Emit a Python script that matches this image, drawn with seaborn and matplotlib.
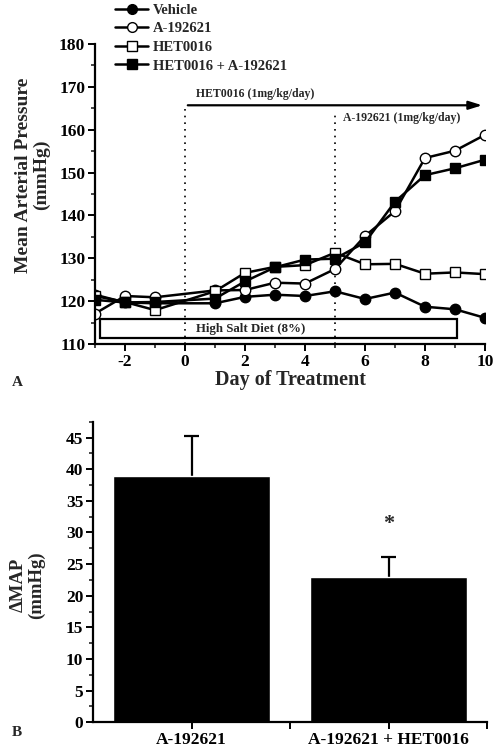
import numpy as np
import pandas as pd
import matplotlib
matplotlib.use("Agg")
import matplotlib.pyplot as plt
import seaborn as sns
from matplotlib.ticker import MultipleLocator
from matplotlib.lines import Line2D

#? Data (panel A)
days = [-3, -2, -1, 1, 2, 3, 4, 5, 6, 7, 8, 9, 10]
vehicle = [121.5, 119.7, 119.5, 119.5, 121.0, 121.5, 121.2, 122.3, 120.5, 122.0, 118.7, 118.1, 116.1]
a192621 = [117.1, 121.2, 120.9, 122.5, 122.6, 124.3, 124.1, 127.5, 135.2, 141.0, 153.4, 155.1, 158.8]
het0016 = [121.2, 119.8, 117.9, 122.3, 126.6, 128.0, 128.4, 131.3, 128.6, 128.7, 126.4, 126.7, 126.3]
het_a = [120.3, 119.7, 119.8, 120.6, 124.6, 127.9, 129.7, 129.9, 133.7, 143.2, 149.4, 151.0, 153.0]
series_names = ["Vehicle", "A-192621", "HET0016", "HET0016 + A-192621"]

#? Data (panel B)
bar_labels = ["A-192621", "A-192621 + HET0016"]
bar_values = [38.9, 23.0]
bar_errors = [6.4, 3.1]

sns.set_style("ticks")
plt.rcParams["font.family"] = ["Liberation Serif", "DejaVu Serif"]
plt.rcParams["font.weight"] = "bold"
plt.rcParams["axes.unicode_minus"] = False

fig = plt.figure(figsize=(4.98, 7.5), dpi=100)
ax1 = fig.add_axes([95 / 498, 1 - 344 / 750, 390 / 498, 300 / 750])
ax2 = fig.add_axes([93 / 498, 1 - 722.3 / 750, 394 / 498, 300.6 / 750])

#! Panel A - line chart
df = pd.DataFrame({"day": days * 4,
                   "map": vehicle + a192621 + het0016 + het_a,
                   "group": sum([[n] * len(days) for n in series_names], [])})
styles = {"Vehicle": ("o", "black"), "A-192621": ("o", "white"),
          "HET0016": ("s", "white"), "HET0016 + A-192621": ("s", "black")}
for name in series_names:
    mk, fc = styles[name]
    sns.lineplot(data=df[df["group"] == name], x="day", y="map", ax=ax1,
                 color="black", lw=1.8, marker=mk, markersize=7.5 if mk == "o" else 7,
                 markerfacecolor=fc, markeredgecolor="black", markeredgewidth=1.0,
                 zorder=3)

ax1.set_xlim(-3, 10)
ax1.set_ylim(110, 180)
ax1.xaxis.set_major_locator(MultipleLocator(2))
ax1.xaxis.set_minor_locator(MultipleLocator(1))
ax1.yaxis.set_major_locator(MultipleLocator(10))
ax1.yaxis.set_minor_locator(MultipleLocator(5))
ax1.set_xlabel("Day of Treatment", fontsize=14.5, fontweight="bold")
ax1.xaxis.set_label_coords(0.5, -0.085)
ax1.set_ylabel("Mean Arterial Pressure\n(mmHg)", fontsize=14, fontweight="bold", linespacing=1.05)
ax1.yaxis.set_label_coords(-0.115, 0.563)

# dotted treatment lines
ax1.plot([0, 0], [110, 165.6], ls=(0, (1, 3)), color="black", lw=1.2, zorder=1)
ax1.plot([5, 5], [110, 164.4], ls=(0, (1, 3)), color="black", lw=1.2, zorder=1)
ax1.annotate("", xy=(10, 165.7), xytext=(0, 165.7),
             arrowprops=dict(arrowstyle="-|>,head_length=0.8,head_width=0.25", color="black", lw=1.6),
             annotation_clip=False)
ax1.text(0.35, 168.4, "HET0016 (1mg/kg/day)", fontsize=8.5, fontweight="bold", va="center")
ax1.text(5.25, 162.8, "A-192621 (1mg/kg/day)", fontsize=8.5, fontweight="bold", va="center")

# high salt diet box
ax1.add_patch(plt.Rectangle((-2.85, 111.3), 11.9, 4.6, fill=False, ec="black", lw=1.6, zorder=2))
ax1.text(2.2, 113.6, "High Salt Diet (8%)", fontsize=9.3, fontweight="bold", ha="center", va="center")

handles = [Line2D([], [], color="black", lw=1.8, marker=styles[n][0], markersize=7,
                  markerfacecolor=styles[n][1], markeredgecolor="black") for n in series_names]
fig.legend(handles, series_names, loc="upper left", bbox_to_anchor=(106 / 498, 1.007),
           frameon=False, handlelength=2.3, handletextpad=0.3,
           labelspacing=0.37, borderpad=0.1, prop={"weight": "bold", "size": 10.5})

#! Panel B - bar chart
sns.barplot(x=bar_labels, y=bar_values, color="black", saturation=1, width=0.8,
            errorbar=None, ax=ax2, zorder=2)
tops = [v + e for v, e in zip(bar_values, bar_errors)]
ax2.vlines([0, 1], bar_values, tops, color="black", lw=1.6, zorder=1)
ax2.hlines(tops, [-0.04, 0.96], [0.04, 1.04], color="black", lw=1.6, zorder=1)
ax2.text(1, 31.3, "*", fontsize=16, fontweight="bold", ha="center", va="center")
ax2.set_xlim(-0.5, 1.5)
ax2.set_ylim(0, 47.5)
ax2.yaxis.set_major_locator(MultipleLocator(5))
ax2.yaxis.set_minor_locator(MultipleLocator(2.5))
ax2.set_xticks([0, 0.5, 1, 1.5])
ax2.set_xticklabels(["A-192621", "", "A-192621 + HET0016", ""])
ax2.set_ylabel("\u0394MAP\n(mmHg)", fontsize=13.5, fontweight="bold", linespacing=1.05)
ax2.yaxis.set_label_coords(-0.122, 0.457)

for ax in (ax1, ax2):
    sns.despine(ax=ax)
    for s in ("left", "bottom"):
        ax.spines[s].set_linewidth(1.6)
        ax.spines[s].set_color("black")
        ax.spines[s].set_zorder(5)
    ax.tick_params(which="major", length=5, width=1.4, direction="out", labelsize=12.5, pad=2, colors="black")
    ax.tick_params(which="minor", length=3, width=1.2, direction="out")
    for lab in ax.get_xticklabels() + ax.get_yticklabels():
        lab.set_fontweight("bold")

fig.text(12 / 498, 1 - 382 / 750, "A", fontsize=11, fontweight="bold", va="center")
fig.text(12 / 498, 1 - 733 / 750, "B", fontsize=11, fontweight="bold", va="center")

fig.savefig("out.png", dpi=100)
